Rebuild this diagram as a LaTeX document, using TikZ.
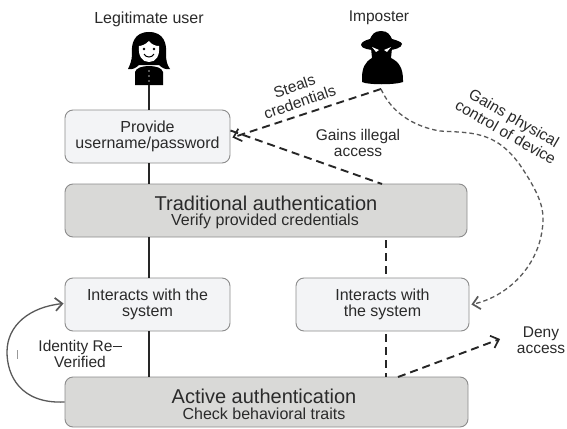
\documentclass[tikz,border=0pt]{standalone}
\usepackage{fontspec}
\setmainfont{Liberation Sans}
\usetikzlibrary{arrows.meta}
\definecolor{lightbox}{HTML}{F3F4F6}
\definecolor{greybox}{HTML}{D9D9D7}
\definecolor{edgegrey}{HTML}{8C8C8C}
\definecolor{txt}{HTML}{2A2A2A}
\tikzset{
  lbox/.style={draw=edgegrey,line width=0.9pt,rounded corners=8pt,fill=lightbox,align=center,text=txt,font=\fontsize{16}{16.5}\selectfont,inner sep=0pt},
  gbox/.style={draw=edgegrey,line width=0.9pt,rounded corners=8pt,fill=greybox,inner sep=0pt},
  lab/.style={align=center,text=txt,font=\fontsize{15.5}{16.5}\selectfont,inner sep=0pt},
  bigt/.style={text=txt,inner sep=0pt,font=\fontsize{20}{22}\selectfont},
  subt/.style={text=txt,inner sep=0pt,font=\fontsize{16}{17}\selectfont},
  solidline/.style={line width=1.8pt,draw=black!85},
  dashline/.style={line width=1.9pt,draw=black!85,dash pattern=on 8pt off 5pt},
  curvedash/.style={line width=1.3pt,draw=black!65,dash pattern=on 4.5pt off 3pt},
  opentip/.style={-{Straight Barb[length=7pt,width=13pt,line width=1.7pt]}}
}
\begin{document}
\begin{tikzpicture}[x=1pt,y=-1pt]
\useasboundingbox (0,0) rectangle (567,428);
\fill[white] (0,0) rectangle (567,428);
% boxes
\node[lbox,minimum width=165pt,minimum height=53pt] (prov) at (147.5,136.5) {Provide\\username/password};
\node[gbox,minimum width=402pt,minimum height=53pt] (trad) at (266,210.5) {};
\node[lbox,minimum width=165pt,minimum height=53pt] (intl) at (147.5,304.5) {Interacts with the\\system};
\node[lbox,minimum width=173pt,minimum height=53pt] (intr) at (382.5,304.5) {Interacts with\\the system};
\node[gbox,minimum width=403pt,minimum height=50pt] (act) at (266.5,402) {};
\node[bigt] (tradt) at (266,203) {Traditional authentication};
\node[subt] (trads) at (265,221) {Verify provided credentials};
\node[bigt] (actt) at (264,396) {Active authentication};
\node[subt] (acts) at (264,414) {Check behavioral traits};
% labels
\node[lab,font=\fontsize{16}{17}\selectfont] (lu) at (149,19) {Legitimate user};
\node[lab] (imp) at (379,18) {Imposter};
\node[lab,rotate=19] (steal) at (297,94) {Steals\\credentials};
\node[lab] (ill) at (358,143) {Gains illegal\\access};
\node[lab,rotate=-30] (phys) at (510,125) {Gains physical\\control of device};
\node[lab] (deny) at (541,340) {Deny\\access};
\node[lab] (idr) at (80,354) {Identity Re\rule[4pt]{9pt}{1.4pt}\\Verified};
% woman icon
\coordinate (ufoot) at (149,85);
\begin{scope}
\fill[black] (149,32) .. controls (134,32) and (131,44) .. (132,54) .. controls (132,60) and (130,65) .. (128,69) .. controls (132,70) and (136,68) .. (139,65) -- (159,65) .. controls (162,68) and (166,70) .. (170,69) .. controls (167,65) and (166,60) .. (166,54) .. controls (167,44) and (164,32) .. (149,32) -- cycle;
\fill[black] (135,85) -- (135,72) .. controls (136,68) and (142,66) .. (149,66) .. controls (156,66) and (162,68) .. (163,72) -- (163,85) -- cycle;
\fill[white] (149,41) .. controls (145,45) and (141,46) .. (139,46) .. controls (138,56) and (142,62) .. (149,62) .. controls (156,62) and (160,56) .. (159,46) .. controls (156,46) and (152,45) .. (149,41) -- cycle;
\fill[black] (144,49) circle (1.3pt) (154,49) circle (1.3pt);
\draw[black,line width=1pt] (144,54) .. controls (146,58) and (152,58) .. (154,54);
\fill[white!70!black] (149,71) circle (.8pt) (149,76) circle (.8pt) (149,81) circle (.8pt);
\end{scope}
% imposter icon
\coordinate (ifoot) at (381,89);
\begin{scope}
\fill[black] (381,31) .. controls (374,31) and (372,35) .. (370,39) .. controls (366,40) and (361,42) .. (361,45) .. controls (361,49) and (372,50) .. (373,50) -- (390,50) .. controls (393,50) and (402,48) .. (402,44) .. controls (402,42) and (396,40) .. (392,39) .. controls (390,35) and (388,31) .. (381,31) -- cycle;
\fill[black] (371,48) -- (392,48) -- (391,58) .. controls (399,62) and (403,68) .. (403,80) -- (403,82) .. controls (395,85) and (368,85) .. (362,82) -- (362,78) .. controls (362,68) and (365,62) .. (372,58) -- cycle;
\fill[white] (372,47) -- (379,50) -- (376,52) -- cycle (391,47) -- (384,50) -- (387,52) -- cycle;
\end{scope}
% solid connectors
\draw[solidline] (ufoot) -- (prov.north -| ufoot);
\draw[solidline] (prov.south -| ufoot) -- (trad.north -| ufoot);
\draw[solidline] (trad.south -| ufoot) -- (intl.north -| ufoot);
\draw[solidline] (intl.south -| ufoot) -- (act.north -| ufoot);
% dashed connectors
\coordinate (dx) at (386,0);
\draw[dashline,opentip] (ifoot) -- ([xshift=2pt,yshift=-1pt]prov.east);
\draw[dashline] ([yshift=6pt]prov.east) -- (382,184);
\draw[dashline] (trad.south -| dx) ++(0,3) -- (intr.north -| dx);
\draw[dashline] (intr.south -| dx) ++(0,3) -- (act.north -| dx);
\coordinate (denyend) at (500,339);
\draw[dashline,opentip] (398,377) -- (denyend);
% curved dashed
\draw[curvedash,opentip] (ifoot) .. controls (388,105) and (405,125) .. (440,131)
  .. controls (470,133) and (495,130) .. (520,165)
  .. controls (537,190) and (543,205) .. (543,218)
  .. controls (543,262) and (510,296) .. ([xshift=2pt]intr.east);
% re-verify loop
\draw[line width=1.3pt,draw=black!65,opentip] (act.west) .. controls (20,404) and (7,375) .. (7,352)
  .. controls (7,325) and (30,307) .. ([yshift=1pt,xshift=-1pt]intl.west);
\draw[line width=1pt,draw=black!40] (17,350) -- (17,359);
\end{tikzpicture}
\end{document}
